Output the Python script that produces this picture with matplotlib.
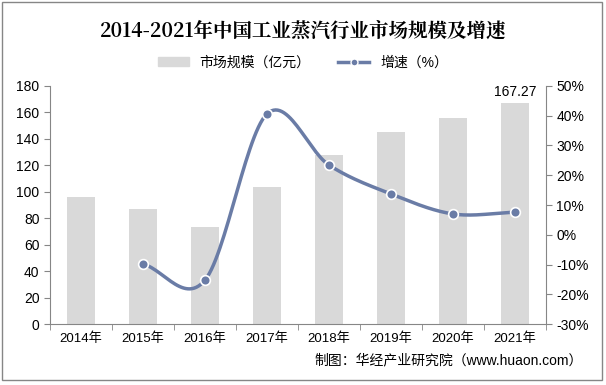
import numpy as np
import matplotlib
matplotlib.use("Agg")
import matplotlib.pyplot as plt
from matplotlib.lines import Line2D
from matplotlib.patches import Patch, Rectangle

plt.rcParams['font.family'] = ['Liberation Sans', 'Noto Sans CJK SC', 'DejaVu Sans']

years = ['2014年', '2015年', '2016年', '2017年', '2018年', '2019年', '2020年', '2021年']
market_size = [96.2, 86.8, 73.6, 103.5, 127.7, 145.2, 155.4, 167.27]
growth = [np.nan, -9.8, -15.2, 40.6, 23.4, 13.7, 7.0, 7.6]

bar_color = '#d9d9d9'
line_color = '#6a7ca6'
axis_color = '#868686'


def smooth(xs, ys, n=30):
    # Catmull-Rom style smoothing, like the office chart "smoothed line"
    xs = np.asarray(xs, float)
    ys = np.asarray(ys, float)
    px = np.concatenate([[2 * xs[0] - xs[1]], xs, [2 * xs[-1] - xs[-2]]])
    py = np.concatenate([[2 * ys[0] - ys[1]], ys, [2 * ys[-1] - ys[-2]]])
    outx, outy = [], []
    for i in range(1, len(px) - 2):
        t = np.linspace(0, 1, n)
        for p, out in ((px, outx), (py, outy)):
            p0, p1, p2, p3 = p[i - 1], p[i], p[i + 1], p[i + 2]
            out.extend(0.5 * (2 * p1 + (-p0 + p2) * t
                              + (2 * p0 - 5 * p1 + 4 * p2 - p3) * t ** 2
                              + (-p0 + 3 * p1 - 3 * p2 + p3) * t ** 3))
    return np.array(outx), np.array(outy)


fig = plt.figure(figsize=(6.06, 3.85), dpi=100)
fig.patches.append(Rectangle((0.004, 0.012), 0.99, 0.982, transform=fig.transFigure,
                             fill=False, edgecolor=axis_color, lw=1.0))

ax = fig.add_axes([0.0825, 0.158, 0.8185, 0.619])
x = np.arange(len(years))
ax.bar(x, market_size, width=0.44, color=bar_color, zorder=1)
ax.set_xlim(-0.5, len(years) - 0.5)
ax.set_ylim(0, 180)
ax.set_yticks(range(0, 181, 20))
ax.set_xticks(x)
ax.set_xticklabels(years)
ax.set_xticks(np.arange(-0.5, len(years), 1), minor=True)
ax.tick_params(axis='x', which='major', length=0, labelsize=9.5, pad=6)
ax.tick_params(axis='x', which='minor', length=4, color=axis_color)
ax.tick_params(axis='y', length=4, color=axis_color, labelsize=10)
ax.text(x[-1], market_size[-1] + 3, '%.2f' % market_size[-1], ha='center', va='bottom', fontsize=10)
for s in ['top', 'right']:
    ax.spines[s].set_visible(False)
for s in ['left', 'bottom']:
    ax.spines[s].set_color(axis_color)

ax2 = ax.twinx()
ax2.set_ylim(-30, 50)
ax2.set_yticks(range(-30, 51, 10))
ax2.set_yticklabels(['%d%%' % v for v in range(-30, 51, 10)])
ax2.tick_params(axis='y', length=4, color=axis_color, labelsize=10)
for s in ['top', 'left', 'bottom']:
    ax2.spines[s].set_visible(False)
ax2.spines['right'].set_color(axis_color)

gx = x[1:]
gy = np.array(growth[1:])
sx, sy = smooth(gx, gy)
ax2.plot(sx, sy, color=line_color, lw=2.5, zorder=3)
ax2.plot(gx, gy, 'o', color=line_color, markersize=7, markeredgecolor='white',
         markeredgewidth=1.2, zorder=4)

fig.text(0.5, 0.918, '2014-2021年中国工业蒸汽行业市场规模及增速', ha='center', va='center',
         fontsize=14, fontweight='bold', family=['Noto Serif CJK SC', 'Noto Sans CJK SC'])
handles = [Patch(color=bar_color, label='市场规模（亿元）'),
           Line2D([0], [0], color=line_color, lw=2.5, marker='o', markersize=5,
                  markeredgecolor='white', label='增速（%）')]
fig.legend(handles=handles, loc='center', bbox_to_anchor=(0.5, 0.838), ncol=2, frameon=False,
           fontsize=10, handlelength=2.2, columnspacing=2.0)
fig.text(0.962, 0.065, '制图：华经产业研究院（www.huaon.com）', ha='right', va='center', fontsize=10)

fig.savefig('out.png', dpi=100)
